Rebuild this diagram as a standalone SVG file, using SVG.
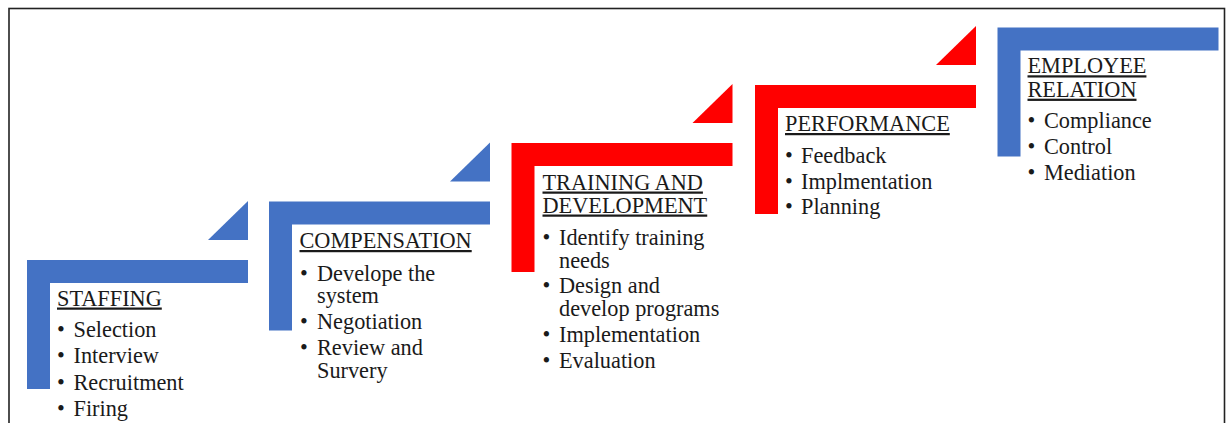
<svg xmlns="http://www.w3.org/2000/svg" width="1230" height="423" viewBox="0 0 1230 423">
<style>
.blue{fill:#4472C4}
.red{fill:#FF0000}
text{font-family:"Liberation Serif","Times New Roman",serif;font-size:22.3px;fill:#1a1a1a}
.h{text-decoration:underline}
</style>
<defs>
<path id="L" d="M0,0 H221 V23 H23 V129 H0 Z"/>
<path id="T" d="M181,-20 L221,-59 V-20 Z"/>
</defs>
<rect x="9" y="8.5" width="1215.5" height="440" fill="#fff" stroke="#222" stroke-width="1.6"/>
<g id="connectors"></g>
<g id="staffing" transform="translate(27,260)">
<use href="#L" class="blue"/><use href="#T" class="blue"/>
<text x="30" y="45.5" class="h">STAFFING</text>
<text x="30" y="77">•</text><text x="46.5" y="77">Selection</text>
<text x="30" y="103.3">•</text><text x="46.5" y="103.3">Interview</text>
<text x="30" y="129.6">•</text><text x="46.5" y="129.6">Recruitment</text>
<text x="30" y="156">•</text><text x="46.5" y="156">Firing</text>
</g>
<g id="compensation" transform="translate(269,201.5)">
<use href="#L" class="blue"/><use href="#T" class="blue"/>
<text x="30.5" y="46.5" class="h">COMPENSATION</text>
<text x="31" y="79">•</text><text x="48" y="79">Develope the<tspan x="48" dy="22.7">system</tspan></text>
<text x="31" y="127.8">•</text><text x="48" y="127.8">Negotiation</text>
<text x="31" y="153.5">•</text><text x="48" y="153.5">Review and<tspan x="48" dy="23.2">Survery</tspan></text>
</g>
<g id="training" transform="translate(511.5,143)">
<use href="#L" class="red"/><use href="#T" class="red"/>
<text x="31" y="46.5" class="h">TRAINING AND<tspan x="31" dy="23">DEVELOPMENT</tspan></text>
<text x="31" y="101.5">•</text><text x="47.5" y="101.5">Identify training<tspan x="47.5" dy="23">needs</tspan></text>
<text x="31" y="149.5">•</text><text x="47.5" y="149.5">Design and<tspan x="47.5" dy="23">develop programs</tspan></text>
<text x="31" y="198.7">•</text><text x="47.5" y="198.7">Implementation</text>
<text x="31" y="224.7">•</text><text x="47.5" y="224.7">Evaluation</text>
</g>
<g id="performance" transform="translate(755,85)">
<use href="#L" class="red"/><use href="#T" class="red"/>
<text x="30" y="46" class="h">PERFORMANCE</text>
<text x="30" y="77.7">•</text><text x="46" y="77.7">Feedback</text>
<text x="30" y="104.3">•</text><text x="46" y="104.3">Implmentation</text>
<text x="30" y="129.3">•</text><text x="46" y="129.3">Planning</text>
</g>
<g id="employee-relation" transform="translate(997.5,27.5)">
<use href="#L" class="blue"/>
<text x="30" y="45.8" class="h">EMPLOYEE<tspan x="30" dy="23.4">RELATION</tspan></text>
<text x="30" y="100.2">•</text><text x="46.5" y="100.2">Compliance</text>
<text x="30" y="126.5">•</text><text x="46.5" y="126.5">Control</text>
<text x="30" y="152.5">•</text><text x="46.5" y="152.5">Mediation</text>
</g>
</svg>
